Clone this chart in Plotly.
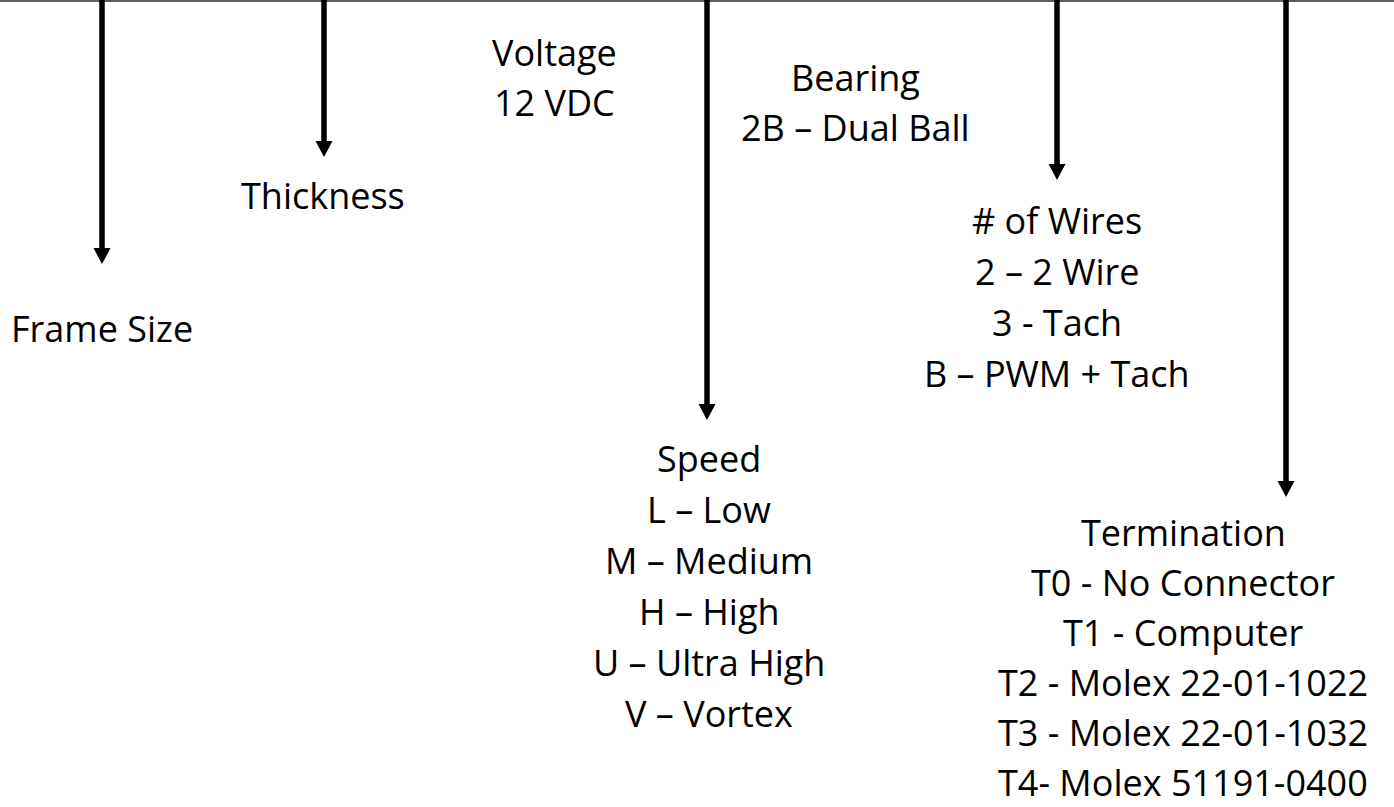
import plotly.graph_objects as go

# ---- content ----
frame_lines = ["Frame Size"]
thickness_lines = ["Thickness"]
voltage_lines = ["Voltage", "12 VDC"]
bearing_lines = ["Bearing", "2B – Dual Ball"]
wires_lines = ["# of Wires", "2 – 2 Wire", "3 - Tach", "B – PWM + Tach"]
speed_lines = ["Speed", "L – Low", "M – Medium", "H – High", "U – Ultra High", "V – Vortex"]
termination_lines = ["Termination", "T0 - No Connector", "T1 - Computer",
                     "T2 - Molex 22-01-1022", "T3 - Molex 22-01-1032", "T4- Molex 51191-0400"]

# ---- layout (pixel positions on a 1394 x 807 canvas) ----
W, H = 1394, 807
FONT = "Open Sans"
FSIZE = 36

# arrows: x position, tip y
arrow_x = [102, 324, 707, 1057, 1286]
arrow_tip = [264, 157, 420, 180, 497]

# text blocks: (lines, center x, first line y, line gap)
blocks = [
    (frame_lines, 102, 328, 51),
    (thickness_lines, 323, 195, 51),
    (voltage_lines, 554, 52, 50),
    (bearing_lines, 855, 77, 50),
    (wires_lines, 1057, 220, 51),
    (speed_lines, 709, 458, 51),
    (termination_lines, 1183, 532, 50),
]

fig = go.Figure()
fig.add_trace(go.Scatter(x=[0, W], y=[0, H], mode="markers",
                         marker=dict(opacity=0), hoverinfo="skip", showlegend=False))

shapes = []
# top border line
shapes.append(dict(type="line", xref="x", yref="y", x0=0, x1=W, y0=1, y1=1,
                   line=dict(color="#5f5f5f", width=2)))

HEAD_H = 16
HEAD_W = 17
for x, tip in zip(arrow_x, arrow_tip):
    shapes.append(dict(type="line", xref="x", yref="y", x0=x, x1=x, y0=0, y1=tip - HEAD_H + 1,
                       line=dict(color="black", width=5.5)))
    path = f"M{x - HEAD_W/2},{tip - HEAD_H} L{x + HEAD_W/2},{tip - HEAD_H} L{x},{tip} Z"
    shapes.append(dict(type="path", xref="x", yref="y", path=path,
                       fillcolor="black", line=dict(color="black", width=0)))

annotations = []
for lines, cx, y0, gap in blocks:
    for i, t in enumerate(lines):
        annotations.append(dict(x=cx, y=y0 + i * gap, xref="x", yref="y", text=t,
                                showarrow=False, xanchor="center", yanchor="middle",
                                font=dict(family=FONT, size=FSIZE, color="black")))

fig.update_layout(
    width=W, height=H,
    margin=dict(l=0, r=0, t=0, b=0),
    paper_bgcolor="white", plot_bgcolor="white",
    xaxis=dict(range=[0, W], visible=False, fixedrange=True),
    yaxis=dict(range=[H, 0], visible=False, fixedrange=True),
    shapes=shapes, annotations=annotations,
    showlegend=False,
)

fig.write_html(
    "out.html",
    config={"displayModeBar": False},
    post_script="document.body.style.margin='0';document.body.style.padding='0';document.body.style.overflow='hidden';",
)
